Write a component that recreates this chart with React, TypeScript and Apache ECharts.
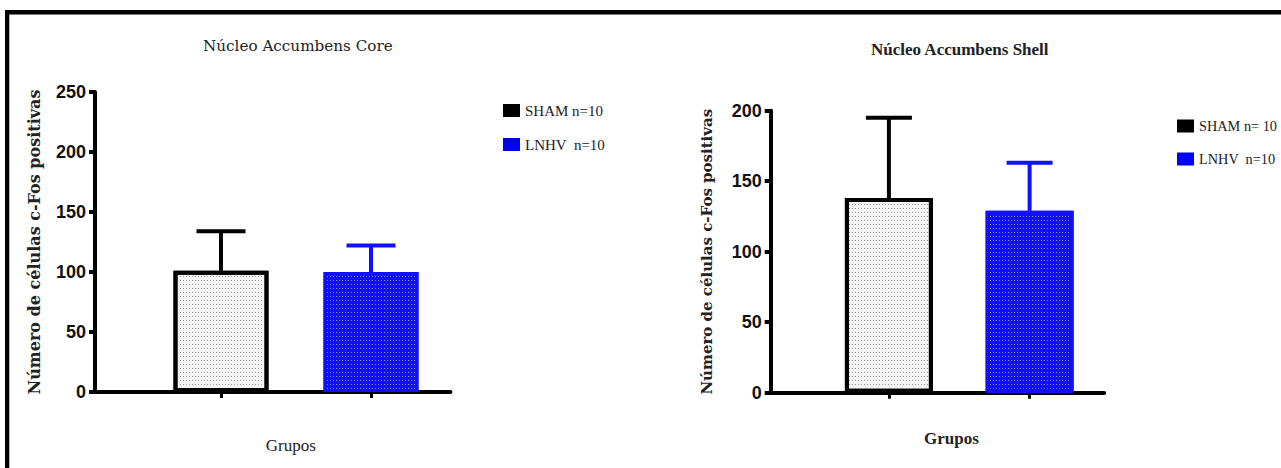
import React, { useEffect, useRef } from "react";
import * as echarts from "echarts";

// ---- data ----
const groupX = [1, 2]; // SHAM, LNHV positions on the x axis
const coreMeans = [101, 100];
const coreSD = [33, 22];
const shellMeans = [138, 129];
const shellSD = [57, 34];
const coreLegend = ["SHAM n=10", "LNHV  n=10"];
const shellLegend = ["SHAM n= 10", "LNHV  n=10"];
const coreTicks = [0, 50, 100, 150, 200, 250];
const shellTicks = [0, 50, 100, 150, 200];
const titles = ["Núcleo Accumbens Core", "Núcleo Accumbens Shell"];
const yName = "Número de células c-Fos positivas";
const xName = "Grupos";

const SERIF = '"Liberation Serif", "DejaVu Serif", serif';
const WIDE_SERIF = '"DejaVu Serif", "Liberation Serif", serif';
const SANS = '"Liberation Sans", Arial, sans-serif';
const BLACK = "#000000";
const BLUE = "#1010ff";
const SHAM_FILL = "#f4f4f4";
const groupColors = [BLACK, BLUE];

const shamDecal = {
  symbol: "rect",
  symbolSize: 1,
  dashArrayX: [1, 2],
  dashArrayY: [1, 3],
  color: "#9a9a9a",
};
const blueDecal = {
  symbol: "rect",
  symbolSize: 1,
  dashArrayX: [1, 2],
  dashArrayY: [1, 3],
  color: "rgba(170,170,255,0.75)",
};

function errRender(capW: number) {
  return (params: any, api: any) => {
    const x = api.value(0);
    const m = api.value(1);
    const sd = api.value(2);
    const top = api.coord([x, m + sd]);
    const base = api.coord([x, m]);
    const color = groupColors[params.dataIndex];
    return {
      type: "group",
      children: [
        {
          type: "line",
          shape: { x1: top[0], y1: base[1], x2: top[0], y2: top[1] },
          style: { stroke: color, lineWidth: 4 },
        },
        {
          type: "line",
          shape: { x1: top[0] - capW / 2, y1: top[1], x2: top[0] + capW / 2, y2: top[1] },
          style: { stroke: color, lineWidth: 4 },
        },
      ],
    };
  };
}

function xAxisFor(i: number, gap: number, shift: number, bold: boolean) {
  return {
    gridIndex: i,
    type: "value",
    min: 0.16,
    max: 2.53,
    axisLine: { show: true, onZero: false, lineStyle: { color: BLACK, width: 4 } },
    axisTick: { show: true, customValues: groupX, length: 6, lineStyle: { color: BLACK, width: 3 } },
    axisLabel: { show: false },
    splitLine: { show: false },
    name: xName,
    nameLocation: "middle",
    nameGap: gap,
    nameTextStyle: {
      fontFamily: SERIF,
      fontSize: 17,
      fontWeight: bold ? "bold" : "normal",
      color: "#222",
      padding: [0, 0, 0, shift * 2],
    },
  };
}

function yAxisFor(i: number, ticks: number[], gap: number, size: number) {
  return {
    gridIndex: i,
    type: "value",
    min: ticks[0],
    max: ticks[ticks.length - 1],
    interval: ticks[1] - ticks[0],
    axisLine: { show: true, lineStyle: { color: BLACK, width: 4 } },
    axisTick: { show: true, length: 6, lineStyle: { color: BLACK, width: 4 } },
    axisLabel: { fontFamily: SANS, fontWeight: "bold", fontSize: 18, color: "#111", margin: 9 },
    splitLine: { show: false },
    name: yName,
    nameLocation: "middle",
    nameRotate: 90,
    nameGap: gap,
    nameTextStyle: {
      fontFamily: WIDE_SERIF,
      fontSize: size,
      fontWeight: "bold",
      color: "#222",
    },
  };
}

function barSeries(i: number, names: string[], means: number[], width: number, blueBorder: number) {
  return [
    {
      type: "bar",
      name: names[0],
      xAxisIndex: i,
      yAxisIndex: i,
      data: [[groupX[0], means[0]]],
      barWidth: width,
      barGap: "-100%",
      itemStyle: { color: SHAM_FILL, borderColor: BLACK, borderWidth: 4, decal: shamDecal },
      z: 3,
    },
    {
      type: "bar",
      name: names[1],
      xAxisIndex: i,
      yAxisIndex: i,
      data: [[groupX[1], means[1]]],
      barWidth: width,
      barGap: "-100%",
      itemStyle: { color: BLUE, borderColor: BLUE, borderWidth: blueBorder, decal: blueDecal },
      z: 3,
    },
  ];
}

function legendFor(names: string[], left: number, top: number, size: number) {
  return {
    left,
    top,
    orient: "vertical",
    icon: "rect",
    itemWidth: 17,
    itemHeight: 13,
    itemGap: 19,
    selectedMode: false,
    data: [
      { name: names[0], itemStyle: { color: BLACK, borderWidth: 0, decal: "none" } },
      { name: names[1], itemStyle: { color: "#0000ff", borderWidth: 0, decal: "none" } },
    ],
    textStyle: { fontFamily: SERIF, fontSize: size, color: "#222" },
  };
}

export default function App() {
  const ref = useRef<HTMLDivElement>(null);
  useEffect(() => {
    document.body.style.margin = "0";
    if (!ref.current) return;
    const chart = echarts.init(ref.current, undefined, { renderer: "svg" });
    const option: any = {
      animation: false,
      backgroundColor: "#ffffff",
      title: [
        {
          text: titles[0],
          left: 198,
          top: 33,
          textStyle: { fontFamily: WIDE_SERIF, fontSize: 15.2, fontWeight: "normal", color: "#222" },
        },
        {
          text: titles[1],
          left: 866,
          top: 36,
          textStyle: { fontFamily: SERIF, fontSize: 17, fontWeight: "bold", color: "#222" },
        },
      ],
      legend: [legendFor(coreLegend, 498, 98, 15), legendFor(shellLegend, 1172, 114, 14.3)],
      grid: [
        { left: 95, top: 92, width: 355.5, height: 300 },
        { left: 770.7, top: 110.7, width: 333.5, height: 282 },
      ],
      xAxis: [xAxisFor(0, 45, 18, false), xAxisFor(1, 37, 14, true)],
      yAxis: [yAxisFor(0, coreTicks, 53, 16), yAxisFor(1, shellTicks, 56, 15)],
      series: [
        ...barSeries(0, coreLegend, coreMeans, 95, 3),
        ...barSeries(1, shellLegend, shellMeans, 88, 4),
        {
          type: "custom",
          xAxisIndex: 0,
          yAxisIndex: 0,
          silent: true,
          encode: { x: 0, y: 1 },
          data: groupX.map((x, k) => [x, coreMeans[k], coreSD[k]]),
          renderItem: errRender(49),
          z: 2,
        },
        {
          type: "custom",
          xAxisIndex: 1,
          yAxisIndex: 1,
          silent: true,
          encode: { x: 0, y: 1 },
          data: groupX.map((x, k) => [x, shellMeans[k], shellSD[k]]),
          renderItem: errRender(46),
          z: 2,
        },
      ],
      graphic: [
        { type: "rect", silent: true, shape: { x: 5, y: 10, width: 1276, height: 4.5 }, style: { fill: BLACK } },
        { type: "rect", silent: true, shape: { x: 5, y: 10, width: 4.3, height: 458 }, style: { fill: BLACK } },
      ],
    };
    chart.setOption(option);
    return () => chart.dispose();
  }, []);
  return <div ref={ref} style={{ width: 1281, height: 468 }} />;
}
